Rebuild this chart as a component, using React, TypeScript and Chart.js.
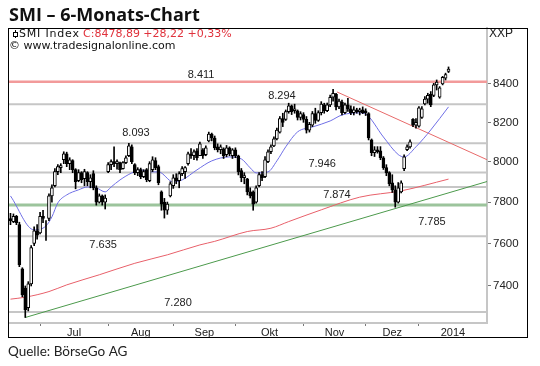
import React, { useEffect, useRef } from 'react';
import { Chart, registerables } from 'chart.js';
Chart.register(...registerables);

// ---- data (trading-day index 0 = mid June 2013) ----
const openP = [7720,7705,7730,7690,7480,7390,7300,7410,7600,7660,7650,7730,7690,7720,7830,7880,7950,7970,8010,8040,7990,8005,7960,7905,7945,7915,7945,7900,7940,7870,7800,7830,7800,7950,7985,8000,7990,7995,7965,7995,8030,8075,7985,7945,7960,7925,7960,7905,7960,8005,7975,7850,7800,7760,7830,7880,7920,7905,7940,7950,7990,8040,8030,8055,8030,8060,8035,8105,8140,8120,8075,8060,8065,8035,8070,8030,8060,8030,7955,7920,7915,7850,7850,7800,7880,7935,7925,8000,8050,8080,8115,8150,8220,8215,8255,8285,8260,8260,8225,8240,8215,8160,8185,8245,8210,8250,8290,8260,8290,8330,8345,8280,8305,8250,8290,8270,8250,8265,8255,8265,8260,8245,8110,8045,8060,8055,8020,7970,7945,7895,7860,7800,7850,7965,8060,8075,8215,8185,8180,8225,8295,8320,8345,8340,8395,8330,8400,8430,8466];
const highP = [7745,7742,7735,7702,7485,7400,7420,7590,7680,7690,7750,7760,7710,7840,7885,7965,7985,7990,8050,8048,8020,8010,7965,7960,7950,7962,7950,7935,7955,7880,7840,7835,7835,7995,8010,8075,8010,7998,8000,8030,8093,8085,7990,7970,7968,7960,7966,8000,8025,8020,7983,7855,7818,7800,7900,7935,7940,7950,7975,7975,8049,8066,8060,8066,8099,8066,8080,8150,8145,8130,8090,8085,8070,8082,8075,8066,8070,8033,7966,7945,7917,7870,7855,7880,7945,7950,8026,8060,8085,8126,8170,8230,8247,8264,8299,8290,8294,8264,8255,8250,8230,8200,8256,8273,8260,8307,8299,8300,8342,8372,8350,8320,8315,8300,8325,8285,8281,8273,8273,8280,8270,8250,8115,8076,8076,8076,8026,7985,7950,7935,7880,7896,7904,8035,8085,8110,8220,8220,8281,8281,8333,8351,8360,8403,8421,8386,8440,8457,8490];
const lowP = [7690,7700,7690,7490,7350,7255,7285,7400,7590,7620,7645,7700,7615,7710,7800,7875,7935,7945,7990,7975,7960,7945,7865,7900,7895,7880,7880,7870,7860,7785,7795,7785,7766,7945,7960,7975,7962,7945,7962,7990,8025,7990,7935,7930,7915,7920,7900,7900,7950,7960,7885,7760,7722,7740,7825,7867,7890,7870,7930,7917,7983,8016,8010,8008,8030,8016,8030,8100,8105,8060,8049,8040,8016,8025,8030,8016,8020,7934,7900,7890,7835,7820,7760,7795,7875,7905,7920,7995,8040,8076,8110,8145,8178,8210,8247,8240,8247,8212,8212,8200,8145,8150,8178,8195,8205,8238,8247,8255,8281,8310,8264,8270,8238,8245,8256,8240,8238,8247,8238,8245,8235,8110,8030,8026,8043,8010,7961,7930,7880,7847,7775,7795,7845,7955,8055,8068,8178,8170,8175,8220,8290,8299,8281,8333,8368,8325,8395,8421,8460];
const closeP = [7710,7730,7700,7500,7360,7290,7410,7580,7660,7640,7730,7720,7690,7830,7870,7950,7975,7980,8040,7990,8010,7960,7900,7945,7910,7950,7900,7920,7870,7800,7830,7800,7820,7985,8000,7990,8000,7960,7995,8020,8080,8000,7945,7960,7925,7950,7910,7990,8010,7970,7895,7790,7760,7790,7890,7920,7905,7940,7965,7970,8040,8030,8050,8020,8090,8030,8070,8140,8120,8070,8060,8075,8030,8070,8040,8060,8030,7950,7920,7930,7850,7830,7790,7870,7935,7920,8010,8050,8075,8115,8160,8220,8200,8255,8285,8255,8270,8225,8245,8215,8160,8190,8245,8210,8250,8295,8260,8290,8330,8350,8280,8310,8250,8290,8270,8250,8265,8255,8265,8250,8250,8120,8045,8060,8050,8020,7970,7945,7890,7860,7800,7870,7895,8025,8075,8100,8185,8200,8275,8270,8320,8340,8290,8395,8410,8380,8435,8450,8479];

// blue short moving average
const maBlueX = [0,8,12,14,16,19,23,26,29,32,34,37,41,44,47,50,55,58,63,68,74,78,81,83,87,90,93,97,102,108,112,118,120,126,131,133,137,142,148];
const maBlueY = [7830,7665,7684,7728,7796,7835,7860,7874,7870,7850,7874,7909,7944,7959,7949,7949,7899,7909,7959,8004,8024,8014,7969,7944,7949,8004,8075,8151,8176,8207,8238,8249,8243,8125,8036,8024,8075,8161,8280];
// red long moving average
const maRedX = [0,5,13,19,30,42,53,64,69,80,88,94,105,118,132,148];
const maRedY = [7339,7348,7374,7405,7452,7506,7546,7593,7610,7657,7673,7705,7762,7824,7855,7913];
// trend lines
const trendRedX = [110.3, 161];
const trendRedY = [8358, 8010];
const trendGreenX = [5, 161];
const trendGreenY = [7255, 7901];
// horizontal levels
const grayLevels = [8294, 8093, 7946, 7874, 7635, 7280];
const redLevel = 8411;
const greenLevel = 7785;
const levelTexts = ['8.411', '8.294', '8.093', '7.946', '7.874', '7.785', '7.635', '7.280'];
const levelTextX = [64.4, 91.7, 42.4, 105.3, 110.3, 142.4, 31.3, 56.6];
const levelTextY = [8448, 8337, 8146, 7988, 7835, 7704, 7593, 7321];
// axes
const monthStarts = [10, 33, 55, 76, 99, 120, 138];
const monthLabels = ['Jul', 'Aug', 'Sep', 'Okt', 'Nov', 'Dez', '2014'];
const yTicks = [7400, 7600, 7800, 8000, 8200, 8400];
const X_MIN = -0.5;
const X_MAX = 161;
const Y_MIN = 7230;
const Y_MAX = 8700;

const AX_FONT = '"Liberation Sans", Arial, sans-serif';

const decor = {
  id: 'decor',
  afterDraw(chart: any) {
    const { ctx } = chart;
    const x = chart.scales.x;
    const y = chart.scales.y;
    ctx.save();
    // level labels
    ctx.font = `11px ${AX_FONT}`;
    ctx.fillStyle = '#222';
    ctx.textAlign = 'center';
    ctx.textBaseline = 'middle';
    levelTexts.forEach((t, i) => {
      ctx.fillText(t, x.getPixelForValue(levelTextX[i]), y.getPixelForValue(levelTextY[i]));
    });
    ctx.textAlign = 'left';
    ctx.textBaseline = 'alphabetic';
    // title
    ctx.font = 'bold 18px "Open Sans", sans-serif';
    ctx.fillStyle = '#111';
    ctx.fillText('SMI \u2013 6-Monats-Chart', 9, 21);
    // footer
    ctx.font = '13.5px Lato, sans-serif';
    ctx.fillStyle = '#222';
    ctx.fillText('Quelle: B\u00f6rseGo AG', 8, 356);
    // legend
    ctx.strokeStyle = '#000';
    ctx.lineWidth = 1;
    ctx.beginPath();
    ctx.moveTo(15.5, 30);
    ctx.lineTo(15.5, 38);
    ctx.stroke();
    ctx.fillStyle = '#fff';
    ctx.fillRect(13.5, 32.5, 4, 4);
    ctx.strokeRect(13.5, 32.5, 4, 4);
    ctx.font = '11px "DejaVu Sans", sans-serif';
    ctx.fillStyle = '#111';
    try { ctx.letterSpacing = '0.8px'; } catch (e) {}
    ctx.fillText('SMI Index', 19, 37);
    try { ctx.letterSpacing = '0px'; } catch (e) {}
    ctx.fillStyle = '#e0323c';
    ctx.fillText('C:8478,89 +28,22 +0,33%', 83, 37);
    ctx.fillStyle = '#111';
    ctx.fillText('\u00a9 www.tradesignalonline.com', 9, 49);
    // XXP
    ctx.font = `12px ${AX_FONT}`;
    ctx.fillStyle = '#222';
    ctx.fillText('XXP', 489, 37);
    // frame
    ctx.strokeStyle = '#000';
    ctx.lineWidth = 1;
    ctx.strokeRect(8.5, 28.5, 519, 309);
    ctx.restore();
  },
};

export default function App() {
  const ref = useRef<HTMLCanvasElement | null>(null);
  useEffect(() => {
    let chart: any = null;
    let alive = true;
    const fontsReady = (document as any).fonts
      ? Promise.all([
          (document as any).fonts.load('bold 18px "Open Sans"'),
          (document as any).fonts.load('14px Lato'),
          (document as any).fonts.load('11px "DejaVu Sans"'),
          (document as any).fonts.load('11px "Liberation Sans"'),
        ]).catch(() => null)
      : Promise.resolve(null);
    fontsReady.then(() => {
      if (!alive || !ref.current) return;
      const mids = monthStarts.map((s, i) => (s + (i + 1 < monthStarts.length ? monthStarts[i + 1] : X_MAX)) / 2);
      const labelMap = new Map<number, string>();
      mids.forEach((m, i) => labelMap.set(m, monthLabels[i]));
      const startSet = new Set(monthStarts);
      const allTicks = [...monthStarts, ...mids].sort((a, b) => a - b);

      const wicks = closeP.map((_, i) => ({ x: i, y: [lowP[i], highP[i]] }));
      const bodies = closeP.map((c, i) => ({ x: i, y: [Math.min(openP[i], c), Math.max(openP[i], c)] }));
      const bodyColors = closeP.map((c, i) => (c >= openP[i] ? '#ffffff' : '#000000'));
      const hLine = (v: number) => [{ x: X_MIN, y: v }, { x: X_MAX, y: v }];
      const pts = (xs: number[], ys: number[]) => xs.map((xv, i) => ({ x: xv, y: ys[i] }));
      const lineBase = { type: 'line', pointRadius: 0, fill: false, borderWidth: 1 } as any;

      const datasets: any[] = [
        { type: 'bar', data: bodies, backgroundColor: bodyColors, borderColor: '#000', borderWidth: 1, borderSkipped: false, barThickness: 3, grouped: false, order: 0 },
        { type: 'bar', data: wicks, backgroundColor: '#000', borderWidth: 0, barThickness: 1, grouped: false, order: 1 },
        { ...lineBase, data: pts(maBlueX, maBlueY), borderColor: '#6f6fe6', cubicInterpolationMode: 'monotone', order: 2 },
        { ...lineBase, data: pts(maRedX, maRedY), borderColor: '#e8606a', cubicInterpolationMode: 'monotone', order: 3 },
        { ...lineBase, data: pts(trendRedX, trendRedY), borderColor: '#e86a6a', order: 4 },
        { ...lineBase, data: pts(trendGreenX, trendGreenY), borderColor: '#4c9a4c', order: 4 },
        { ...lineBase, data: hLine(redLevel), borderColor: '#f29a9a', borderWidth: 2.5, order: 5 },
        { ...lineBase, data: hLine(greenLevel), borderColor: '#9cc49c', borderWidth: 3, order: 5 },
        ...grayLevels.map((v) => ({ ...lineBase, data: hLine(v), borderColor: '#c6c6c6', borderWidth: 2, order: 6 })),
      ];

      chart = new Chart(ref.current, {
        type: 'bar',
        data: { datasets },
        plugins: [decor],
        options: {
          responsive: false,
          animation: false,
          devicePixelRatio: 1,
          layout: { padding: { left: 9, top: 28, right: 12, bottom: 28 } },
          plugins: { legend: { display: false }, tooltip: { enabled: false }, title: { display: false } },
          scales: {
            x: {
              type: 'linear',
              min: X_MIN,
              max: X_MAX,
              offset: false,
              grid: {
                offset: false,
                drawOnChartArea: false,
                drawTicks: true,
                tickLength: 3,
                tickColor: (c: any) => (c.tick && startSet.has(c.tick.value) ? '#777' : 'rgba(0,0,0,0)'),
              },
              border: { color: '#c6c6c6', width: 2 },
              ticks: {
                autoSkip: false,
                maxRotation: 0,
                padding: 0,
                color: '#222',
                font: { family: AX_FONT, size: 11 },
                callback: (v: any) => labelMap.get(Number(v)) ?? '',
              },
              afterBuildTicks: (s: any) => {
                s.ticks = allTicks.map((v) => ({ value: v }));
              },
              afterFit: (s: any) => {
                s.height = 15;
              },
            },
            y: {
              type: 'logarithmic',
              position: 'right',
              min: Y_MIN,
              max: Y_MAX,
              grid: { drawOnChartArea: false, drawTicks: true, tickLength: 4, color: '#777' },
              border: { color: '#c6c6c6', width: 2 },
              ticks: {
                padding: 2,
                color: '#222',
                font: { family: AX_FONT, size: 11.5 },
                callback: (v: any) => String(v),
              },
              afterBuildTicks: (s: any) => {
                s.ticks = yTicks.map((v) => ({ value: v }));
              },
              afterFit: (s: any) => {
                s.width = 41;
              },
            },
          },
        } as any,
      } as any);
    });
    return () => {
      alive = false;
      if (chart) chart.destroy();
    };
  }, []);
  return (
    <div style={{ position: 'absolute', left: 0, top: 0, width: 540, height: 366, background: '#fff' }}>
      <canvas ref={ref} width={540} height={366} style={{ display: 'block' }} />
    </div>
  );
}
